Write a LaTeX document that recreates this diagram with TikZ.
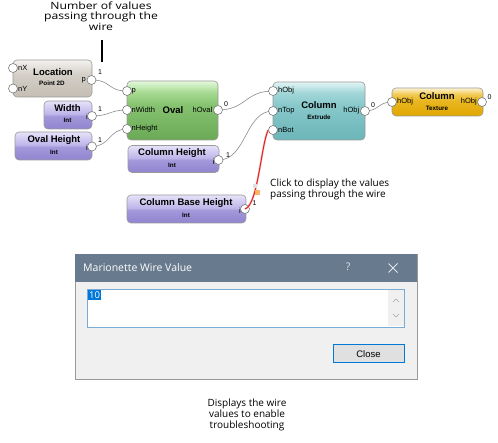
\documentclass[tikz,border=0pt]{standalone}
\usepackage{fontspec}
\setsansfont{Liberation Sans}
\newfontfamily\uifont{Open Sans}
\newfontfamily\wideuifont[FakeStretch=1.22]{Open Sans}
\usetikzlibrary{calc}
\pgfdeclarelayer{background}
\pgfsetlayers{background,main}
\definecolor{boxborder}{HTML}{9A9A9A}
\definecolor{portborder}{HTML}{7A7A7A}
\definecolor{wiregray}{HTML}{8C8C8C}
\definecolor{locTop}{HTML}{F3F2EF}
\definecolor{locMid}{HTML}{D3CEC6}
\definecolor{locBot}{HTML}{C4BEB3}
\definecolor{intTop}{HTML}{E6E2F9}
\definecolor{intMid}{HTML}{BEB6EA}
\definecolor{intMidB}{HTML}{A398DA}
\definecolor{intBot}{HTML}{9085CF}
\definecolor{ovTop}{HTML}{E4F9DC}
\definecolor{ovMidA}{HTML}{A9DC95}
\definecolor{ovMid}{HTML}{86C370}
\definecolor{ovBot}{HTML}{6AA956}
\definecolor{exTop}{HTML}{E2F4F4}
\definecolor{exMidA}{HTML}{A3D7D9}
\definecolor{exMid}{HTML}{88C8CB}
\definecolor{exBot}{HTML}{6BB5B8}
\definecolor{txTop}{HTML}{FDF3D2}
\definecolor{txMidA}{HTML}{F2CB55}
\definecolor{txMid}{HTML}{E9B620}
\definecolor{txBot}{HTML}{E0A700}
\definecolor{titlebar}{HTML}{687A8E}
\definecolor{dlgbg}{HTML}{F0F0F0}
\definecolor{winblue}{HTML}{0078D7}
\definecolor{boxblue}{HTML}{7AAAD8}
\definecolor{redwire}{HTML}{E02828}
\pgfdeclareverticalshading{locshade}{100bp}{color(0bp)=(locBot); color(25bp)=(locBot); color(55bp)=(locMid); color(75bp)=(locTop); color(100bp)=(locTop)}
\pgfdeclareverticalshading{intshade}{100bp}{color(0bp)=(intBot); color(25bp)=(intBot); color(48bp)=(intMidB); color(52bp)=(intMid); color(75bp)=(intTop); color(100bp)=(intTop)}
\pgfdeclareverticalshading{ovshade}{100bp}{color(0bp)=(ovBot); color(25bp)=(ovBot); color(55bp)=(ovMid); color(66bp)=(ovMidA); color(75bp)=(ovTop); color(100bp)=(ovTop)}
\pgfdeclareverticalshading{exshade}{100bp}{color(0bp)=(exBot); color(25bp)=(exBot); color(55bp)=(exMid); color(66bp)=(exMidA); color(75bp)=(exTop); color(100bp)=(exTop)}
\pgfdeclareverticalshading{txshade}{100bp}{color(0bp)=(txBot); color(25bp)=(txBot); color(52bp)=(txMid); color(64bp)=(txMidA); color(75bp)=(txTop); color(100bp)=(txTop)}
\tikzset{
  mbox/.style={draw=boxborder, rounded corners=4pt, line width=0.6pt, inner sep=0pt},
  locbox/.style={mbox, shading=locshade},
  intbox/.style={mbox, shading=intshade},
  ovbox/.style={mbox, shading=ovshade},
  exbox/.style={mbox, shading=exshade},
  txbox/.style={mbox, shading=txshade},
  port/.style={circle, draw=portborder, fill=white, minimum size=9pt, inner sep=0pt, line width=0.6pt},
  plabel/.style={font=\sffamily\fontsize{7.5}{8}\selectfont, inner sep=0pt},
  ntitle/.style={font=\sffamily\bfseries\fontsize{9.5}{10}\selectfont, inner sep=0pt},
  nsub/.style={font=\sffamily\bfseries\fontsize{6.3}{7}\selectfont, inner sep=0pt},
  num/.style={font=\sffamily\fontsize{7}{8}\selectfont, inner sep=0pt},
  wire/.style={draw=wiregray, line width=0.6pt},
  selwire/.style={draw=redwire, line width=1.1pt},
  note/.style={font=\uifont\fontsize{10}{11}\selectfont, align=center, inner sep=0pt},
  widenote/.style={font=\wideuifont\fontsize{10}{10.3}\selectfont, align=center, inner sep=0pt},
  uitext/.style={font=\uifont\fontsize{10.5}{12}\selectfont, inner sep=0pt},
}
\begin{document}
\begin{tikzpicture}[x=1pt,y=-1pt]
\useasboundingbox (0,0) rectangle (498,443);
\begin{pgfonlayer}{background}
\fill[white] (0,0) rectangle (498,443);
\end{pgfonlayer}

% ---------- annotation top ----------
\node[widenote] (topnote) at (101,16) {Number of values\\passing through the\\wire};
\coordinate (ptrA) at (102,40);
\coordinate (ptrB) at (102,62);
\draw[line width=1.4pt] (ptrA) -- (ptrB);

% ---------- Location ----------
\node[locbox, minimum width=79pt, minimum height=37pt] (loc) at (52.5,78.5) {};
\node[ntitle] (loct) at (53,72) {Location};
\node[nsub] (locs) at (52,83.5) {Point 2D};
\node[plabel, anchor=west] (lnx) at (18,68) {nX};
\node[plabel, anchor=west] (lny) at (18,89) {nY};
\node[plabel, anchor=east] (lp) at (86,80) {p};
\node[port] (loc-nx) at (13,68) {};
\node[port] (loc-ny) at (13,88.5) {};
\node[port] (loc-p) at (91.5,80) {};
\node[num] (n1) at (100,72.5) {1};

% ---------- Width ----------
\node[intbox, minimum width=48pt, minimum height=28pt] (wid) at (68,115) {};
\node[ntitle] (widt) at (67.5,108.5) {Width};
\node[nsub] (wids) at (67.5,120.5) {Int};
\node[plabel, anchor=east] (wi) at (88,117) {i};
\node[port] (wid-o) at (92,116) {};
\node[num] (n2) at (100,109.5) {1};

% ---------- Oval Height ----------
\node[intbox, minimum width=77pt, minimum height=28pt] (ovh) at (53.5,146) {};
\node[ntitle] (ovht) at (54,140) {Oval Height};
\node[nsub] (ovhs) at (54,152) {Int};
\node[plabel, anchor=east] (ovhi) at (88,148) {i};
\node[port] (ovh-o) at (92,146.5) {};
\node[num] (n3) at (100,140) {1};

% ---------- Oval ----------
\node[ovbox, minimum width=91pt, minimum height=59pt] (oval) at (172.5,110.5) {};
\node[plabel, anchor=west] (ovp) at (131.5,91) {p};
\node[plabel, anchor=west] (ovw) at (131.5,110) {nWidth};
\node[plabel, anchor=west] (ovhl) at (131.5,129) {nHeight};
\node[ntitle] (ovt) at (173,110) {Oval};
\node[plabel, anchor=east] (ovo) at (212.5,110) {hOval};
\node[port] (oval-p) at (127,91) {};
\node[port] (oval-w) at (127,110) {};
\node[port] (oval-h) at (127,129) {};
\node[port] (oval-o) at (218,110) {};
\node[num] (n4) at (226,104) {0};

% ---------- Column Height ----------
\node[intbox, minimum width=91pt, minimum height=27pt] (ch) at (173.5,159) {};
\node[ntitle] (cht) at (172,153.5) {Column Height};
\node[nsub] (chs) at (172,165) {Int};
\node[plabel, anchor=east] (chi) at (214.5,162) {i};
\node[port] (ch-o) at (218.5,160) {};
\node[num] (n5) at (228,155) {1};

% ---------- Column Base Height ----------
\node[intbox, minimum width=119pt, minimum height=28pt] (cbh) at (186.5,209) {};
\node[ntitle] (cbht) at (186,203) {Column Base Height};
\node[nsub] (cbhs) at (186,215) {Int};
\node[plabel, anchor=east] (cbhi) at (241,211) {i};
\node[port] (cbh-o) at (245,209) {};
\node[num] (n6) at (254.5,203.5) {1};

% ---------- Column Extrude ----------
\node[exbox, minimum width=92pt, minimum height=58pt] (ext) at (319,111) {};
\node[plabel, anchor=west] (exa) at (278,91) {hObj};
\node[plabel, anchor=west] (exb) at (278,111) {nTop};
\node[plabel, anchor=west] (exc) at (278,130) {nBot};
\node[ntitle] (ext1) at (319,105) {Column};
\node[nsub] (ext2) at (319,117) {Extrude};
\node[plabel, anchor=east] (exo) at (359.5,111) {hObj};
\node[port] (ext-h) at (273,91) {};
\node[port] (ext-t) at (273,111) {};
\node[port] (ext-b) at (273,130) {};
\node[port] (ext-o) at (365,111) {};
\node[num] (n7) at (373,105.5) {0};

% ---------- Column Texture ----------
\node[txbox, minimum width=91pt, minimum height=28pt] (tex) at (437.5,102) {};
\node[plabel, anchor=west] (txa) at (397,102) {hObj};
\node[ntitle] (tx1) at (437,96.5) {Column};
\node[nsub] (tx2) at (437,108) {Texture};
\node[plabel, anchor=east] (txb) at (477,102) {hObj};
\node[port] (tex-i) at (392,102) {};
\node[port] (tex-o) at (482,102) {};
\node[num] (n8) at (489.5,97) {0};

% ---------- wires ----------
\begin{pgfonlayer}{background}
\draw[wire] (loc-p.center) .. controls +(20,0) and +(-20,0) .. (oval-p.center);
\draw[wire] (wid-o.center) .. controls +(18,0) and +(-18,0) .. (oval-w.center);
\draw[wire] (ovh-o.center) .. controls +(18,0) and +(-18,0) .. (oval-h.center);
\draw[wire] (oval-o.center) .. controls +(28,0) and +(-28,0) .. (ext-h.center);
\draw[wire] (ch-o.center) .. controls +(28,0) and +(-28,0) .. (ext-t.center);
\draw[wire] (ext-o.center) .. controls +(14,0) and +(-14,0) .. (tex-i.center);
\end{pgfonlayer}
\draw[draw=redwire!35, line width=2.2pt, opacity=0.6] (ext-b.west) .. controls (261,145) and (258,205) .. (cbh-o.center);
\draw[selwire] (ext-b.west) .. controls (261,145) and (258,205) .. (cbh-o.center);

% cursor marks
\node[fill=black!12, minimum size=4pt, inner sep=0pt] (curA) at (255,186) {};
\node[fill=orange!60, minimum size=5pt, inner sep=0pt] (curB) at (257,193) {};

\node[note, align=left, anchor=west] (clicknote) at (270,189.5) {Click to display the values\\passing through the wire};

% ---------- dialog ----------
\node[draw=black!40, fill=dlgbg, line width=0.6pt, minimum width=342pt, minimum height=125pt, inner sep=0pt] (dlg) at (246,316.5) {};
\node[fill=titlebar, minimum width=342pt, minimum height=28pt, inner sep=0pt] (dlgbar) at (246,268) {};
\node[uitext, text=white, anchor=west] (dlgtitle) at (83,268) {Marionette Wire Value};
\node[uitext, text=white!80!titlebar, font=\uifont\fontsize{10.5}{11}\selectfont] (dlgq) at (348,267) {?};
\coordinate (xa) at (388.5,263.5);
\coordinate (xb) at (397.5,272.5);
\coordinate (xc) at (388.5,272.5);
\coordinate (xd) at (397.5,263.5);
\draw[white!80!titlebar, line width=0.8pt] (xa) -- (xb) (xc) -- (xd);

\node[draw=boxblue, fill=white, line width=0.8pt, minimum width=317pt, minimum height=38pt, inner sep=0pt] (tbox) at (245.5,308) {};
\node[fill=dlgbg, minimum width=16pt, minimum height=36.5pt, inner sep=0pt] (scroll) at (395.5,308) {};
\coordinate (ua) at (393,302); \coordinate (ub) at (396,299); \coordinate (uc) at (399,302);
\coordinate (da) at (393,314); \coordinate (db) at (396,317); \coordinate (dc) at (399,314);
\draw[black!35, line width=0.6pt] (ua) -- (ub) -- (uc);
\draw[black!35, line width=0.6pt] (da) -- (db) -- (dc);
\node[fill=winblue, text=white, font=\uifont\fontsize{9.5}{10}\selectfont, minimum width=13pt, minimum height=10pt, inner sep=0pt] (val) at (94.5,295.5) {10};

\node[draw=winblue, fill=black!12, line width=1pt, minimum width=71pt, minimum height=18pt, inner sep=0pt, font=\sffamily\fontsize{9.5}{10}\selectfont] (closebtn) at (368.5,354) {Close};

% ---------- bottom note ----------
\node[note] (botnote) at (247,414.5) {Displays the wire\\values to enable\\troubleshooting};
\end{tikzpicture}
\end{document}
